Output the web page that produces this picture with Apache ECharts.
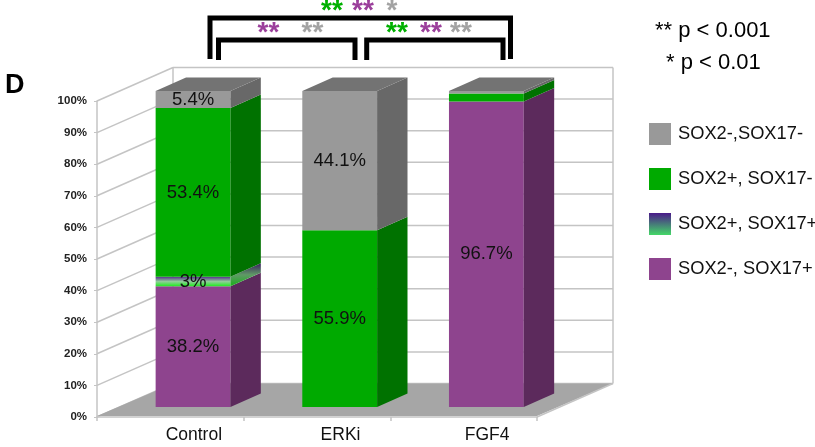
<!DOCTYPE html>
<html>
<head>
<meta charset="utf-8">
<script src="https://cdn.jsdelivr.net/npm/echarts@6/dist/echarts.min.js"></script>
<style>
html,body{margin:0;padding:0;background:#fff;}
#chart{width:815px;height:447px;}
</style>
</head>
<body>
<div id="chart"></div>
<script>
// ---- data ----
const categories = ['Control', 'ERKi', 'FGF4'];
const sox2nSox17p = [38.2, 0, 96.7];   // SOX2-, SOX17+ (purple, bottom)
const sox2pSox17p = [3.0, 0, 0];       // SOX2+, SOX17+ (gradient)
const sox2pSox17n = [53.4, 55.9, 2.5]; // SOX2+, SOX17- (green)
const sox2nSox17n = [5.4, 44.1, 0.8];  // SOX2-,SOX17- (gray, top)
const yTicks = [0, 10, 20, 30, 40, 50, 60, 70, 80, 90, 100];
const seriesNames = ['SOX2-, SOX17+', 'SOX2+, SOX17+', 'SOX2+, SOX17-', 'SOX2-,SOX17-'];
const legendOrder = ['SOX2-,SOX17-', 'SOX2+, SOX17-', 'SOX2+, SOX17+', 'SOX2-, SOX17+'];

const FONT = "'Liberation Sans', Arial, Helvetica, sans-serif";
const G = echarts.graphic;

const stackValues = [sox2nSox17p, sox2pSox17p, sox2pSox17n, sox2nSox17n];
// compute stacked bases and top flags
function buildData(k) {
  return categories.map((c, i) => {
    let base = 0;
    for (let j = 0; j < k; j++) base += stackValues[j][i];
    let topIdx = -1;
    for (let j = 0; j < stackValues.length; j++) if (stackValues[j][i] > 0) topIdx = j;
    return [i, base, stackValues[k][i], topIdx === k ? 1 : 0];
  });
}

const styles = [
  { front: '#8e448e', side: '#5c2a5c', top: '#737373', legend: '#8e448e' },
  {
    front: new G.LinearGradient(0, 0, 0, 1, [{offset: 0, color: '#5a2f90'}, {offset: 0.5, color: '#8fcf98'}, {offset: 1, color: '#1fec1f'}]),
    side: new G.LinearGradient(0, 0, 0, 1, [{offset: 0, color: '#3c1f60'}, {offset: 0.5, color: '#5f9a66'}, {offset: 1, color: '#17b017'}]),
    top: '#737373',
    legend: new G.LinearGradient(0, 0, 0, 1, [{offset: 0, color: '#4a1a8a'}, {offset: 1, color: '#44d868'}])
  },
  { front: '#00aa00', side: '#007200', top: '#737373', legend: '#00aa00' },
  { front: '#999999', side: '#686868', top: '#737373', legend: '#999999' }
];

// 3D geometry (pixels)
const FX = 22.7, FY = -10;     // bar front-face offset from front plane
const BDX = 30.4, BDY = -13.5; // bar depth
const WDX = 76, WDY = -33.5;   // wall depth

function makeBarRender(st) {
  return function (params, api) {
    const i = api.value(0), base = api.value(1), v = api.value(2), isTop = api.value(3);
    if (!(v > 0)) return null;
    const b = api.coord([i, base]);
    const t = api.coord([i, base + v]);
    const band = api.size([1, 0])[0];
    const w = band * 0.51;
    const x0 = b[0] + FX - w / 2, x1 = x0 + w;
    const yb = b[1] + FY, yt = t[1] + FY;
    const children = [
      { type: 'rect', shape: { x: x0, y: yt, width: w, height: yb - yt }, style: { fill: st.front }, z2: 10 },
      { type: 'polygon', shape: { points: [[x1, yb], [x1 + BDX, yb + BDY], [x1 + BDX, yt + BDY], [x1, yt]] }, style: { fill: st.side }, z2: 10 }
    ];
    if (isTop) {
      children.push({ type: 'polygon', shape: { points: [[x0, yt], [x1, yt], [x1 + BDX, yt + BDY], [x0 + BDX, yt + BDY]] }, style: { fill: st.top }, z2: 10 });
    }
    if (v >= 3) {
      children.push({ type: 'text', x: (x0 + x1) / 2, y: (yt + yb) / 2,
        style: { text: v + '%', font: '18.5px ' + FONT, fill: '#111', align: 'center', verticalAlign: 'middle' }, z2: 100 });
    }
    return { type: 'group', children };
  };
}

function renderWalls(params, api) {
  const cs = params.coordSys;
  const L = cs.x, R = cs.x + cs.width, T = cs.y, B = cs.y + cs.height;
  const v = api.value(0);
  const y = api.coord([0, v])[1];
  const lineStyle = { stroke: '#c4c4c4', lineWidth: 1.5, fill: null };
  const children = [
    { type: 'line', shape: { x1: L + WDX, y1: y + WDY, x2: R + WDX, y2: y + WDY }, style: lineStyle },
    { type: 'line', shape: { x1: L, y1: y, x2: L + WDX, y2: y + WDY }, style: lineStyle }
  ];
  if (params.dataIndex === 0) {
    children.push(
      { type: 'line', shape: { x1: L + WDX, y1: T + WDY, x2: L + WDX, y2: B + WDY }, style: lineStyle },
      { type: 'line', shape: { x1: R + WDX, y1: T + WDY, x2: R + WDX, y2: B + WDY }, style: lineStyle },
      { type: 'polygon', shape: { points: [[L, B - 1], [R, B - 1], [R + WDX, B + WDY], [L + WDX, B + WDY]] }, style: { fill: '#a6a6a6' }, z2: 5 },
      { type: 'line', shape: { x1: R, y1: B, x2: R + WDX, y2: B + WDY }, style: lineStyle, z2: 6 }
    );
  }
  return { type: 'group', children };
}

const chart = echarts.init(document.getElementById('chart'), null, { renderer: 'canvas' });

const series = [
  { type: 'custom', name: '_walls', z: 1, silent: true, renderItem: renderWalls,
    encode: { x: -1, y: 0 }, data: yTicks.map(v => [v]) }
];
seriesNames.forEach((name, k) => {
  series.push({
    type: 'custom', name, z: 2,
    renderItem: makeBarRender(styles[k]),
    itemStyle: { color: styles[k].legend },
    encode: { x: 0, y: [1, 2] },
    data: buildData(k)
  });
});

const starFont = 'bold 28px ' + FONT;
const GREEN = '#00b000', PURPLE = '#9b3f9b', GRAY = '#a3a3a3';
function star(x, y, t, c) {
  return { type: 'text', x, y, style: { text: t, font: starFont, fill: c, align: 'center', verticalAlign: 'middle' } };
}
function bracket(pts) {
  return { type: 'polyline', shape: { points: pts }, style: { stroke: '#000', lineWidth: 5, fill: null, lineJoin: 'miter' } };
}

chart.setOption({
  animation: false,
  backgroundColor: '#fff',
  grid: { left: 97, top: 101, width: 440, height: 316, containLabel: false },
  xAxis: {
    type: 'category', data: categories,
    axisLine: { show: true, lineStyle: { color: '#c4c4c4', width: 1.5 } },
    axisTick: { show: true, length: 4, lineStyle: { color: '#c4c4c4', width: 1.5 } },
    axisLabel: { color: '#111', fontSize: 17.5, fontFamily: FONT, margin: 9, padding: [0, 0, 0, 47] },
    splitLine: { show: false }
  },
  yAxis: {
    type: 'value', min: 0, max: 100, interval: 10,
    axisLine: { show: true, lineStyle: { color: '#c4c4c4', width: 1.5 } },
    axisTick: { show: true, length: 3, lineStyle: { color: '#c4c4c4' } },
    axisLabel: { formatter: '{value}%', color: '#222', fontSize: 11.5, fontWeight: 'bold', fontFamily: FONT, margin: 10 },
    splitLine: { show: false }
  },
  legend: {
    data: legendOrder, orient: 'vertical', left: 644, top: 118,
    itemWidth: 22, itemHeight: 22, itemGap: 23, icon: 'rect', selectedMode: false,
    textStyle: { fontSize: 18.3, color: '#111', fontFamily: FONT, padding: [0, 0, 0, 2] }
  },
  series,
  graphic: [
    { type: 'text', x: 5, y: 86, style: { text: 'D', font: 'bold 27px ' + FONT, fill: '#000', verticalAlign: 'middle' } },
    { type: 'text', x: 655, y: 31, style: { text: '** p < 0.001', font: '22px ' + FONT, fill: '#000', verticalAlign: 'middle' } },
    { type: 'text', x: 666, y: 63, style: { text: '* p < 0.01', font: '22px ' + FONT, fill: '#000', verticalAlign: 'middle' } },
    bracket([[210, 59], [210, 18], [510.5, 18], [510.5, 59]]),
    bracket([[218.5, 60], [218.5, 40], [355, 40], [355, 60]]),
    bracket([[366.7, 60], [366.7, 40], [503, 40], [503, 60]]),
    star(332, 11, '**', GREEN), star(363, 11, '**', PURPLE), star(392, 11, '*', GRAY),
    star(268.5, 33, '**', PURPLE), star(312.5, 33, '**', GRAY),
    star(397, 33, '**', GREEN), star(431, 33, '**', PURPLE), star(461, 33, '**', GRAY)
  ]
});
</script>
</body>
</html>
